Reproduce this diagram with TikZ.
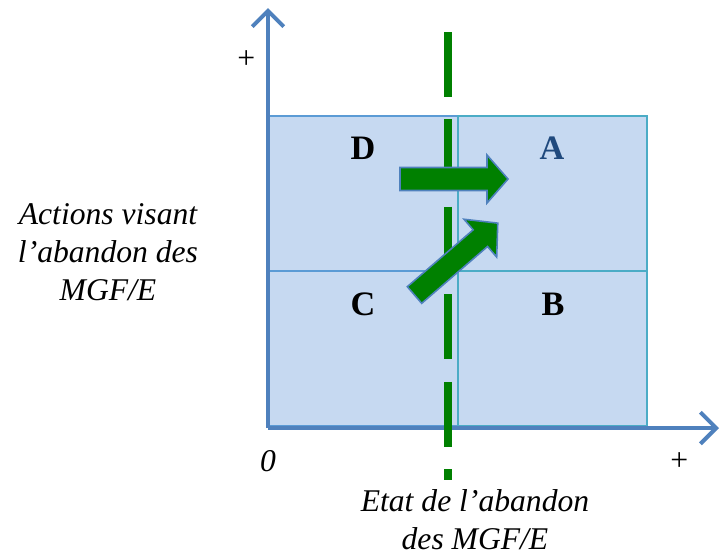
\documentclass[tikz,border=0pt]{standalone}
\usepackage{fontspec}
\setmainfont{Liberation Serif}
\usetikzlibrary{arrows.meta, positioning}

\definecolor{axisblue}{HTML}{4F81BD}
\definecolor{cellfill}{HTML}{C6D9F1}
\definecolor{cellteal}{HTML}{4BACC6}
\definecolor{cellblue}{HTML}{5B9BD5}
\definecolor{darkblue}{HTML}{1F497D}
\definecolor{gdark}{HTML}{008000}

\begin{document}
\begin{tikzpicture}[
  x=0.02cm, y=-0.02cm,
  axis/.style={line width=2.3pt, draw=axisblue, -{Straight Barb[length=9pt, width=18pt]}},
  cell/.style={rectangle, draw, line width=1.2pt, fill=cellfill, minimum width=3.78cm, minimum height=3.1cm, anchor=north west},
  letter/.style={font=\fontsize{19.5}{22}\selectfont\bfseries},
  lab/.style={font=\fontsize{18}{21.5}\selectfont\itshape, align=center},
  seuil/.style={line width=4pt, draw=gdark, dash pattern=on 1.3cm off 0.45cm},
  blockarrow/.style={fill=gdark, draw=axisblue, line width=0.9pt, line join=miter}
]
\useasboundingbox (0,0) rectangle (727,556);

% -------------------------
% QUADRANTS
% -------------------------
\node[cell, draw=cellblue] (qD) at (268,115) {};
\node[cell, draw=cellblue] (qC) at (268,270) {};
\node[cell, draw=cellteal] (qA) at (457,115) {};
\node[cell, draw=cellteal] (qB) at (457,270) {};

\node[letter] (lD) at (363,148) {D};
\node[letter, text=darkblue] (lA) at (552,148) {A};
\node[letter] (lC) at (363,304) {C};
\node[letter] (lB) at (553,304) {B};

% -------------------------
% AXES
% -------------------------
\coordinate (origin) at (268,428);
\coordinate (ytip) at (268,8);
\coordinate (xtip) at (719,428);
\draw[axis] (origin) -- (ytip);
\draw[axis] (origin) -- (xtip);

\node[lab] (yplus) at (246,60) {+};
\node[lab] (xplus) at (679,462) {+};
\node[lab] (zero) at (268,461) {0};

% threshold line
\coordinate (stop) at (448,32);
\coordinate (sbot) at (448,480);
\draw[seuil] (stop) -- (sbot);

% -------------------------
% GREEN ARROWS
% -------------------------
\begin{scope}[shift={(400,179)}]
  \draw[blockarrow] (0,-11.5) -- (87,-11.5) -- (87,-24) -- (108,0) -- (87,24) -- (87,11.5) -- (0,11.5) -- cycle;
\end{scope}
\begin{scope}[shift={(414.5,295)}, rotate=40.8]
  \draw[blockarrow] (0,-11) -- (87,-11) -- (87,-25) -- (110,0) -- (87,25) -- (87,11) -- (0,11) -- cycle;
\end{scope}

% -------------------------
% AXIS TITLES
% -------------------------
\node[lab] (ytitle) at (108,252) {Actions visant\\l’abandon des\\MGF/E};
\node[lab] (xtitle) at (475,520) {Etat de l’abandon\\des MGF/E};

\end{tikzpicture}
\end{document}
